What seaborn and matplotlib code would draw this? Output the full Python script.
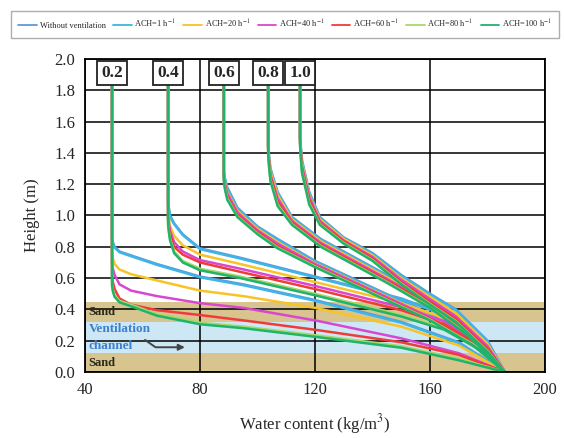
import numpy as np
import pandas as pd
import matplotlib
matplotlib.use("Agg")
import matplotlib.pyplot as plt
import seaborn as sns

# ---------------- data ----------------
SERIES = ["Without ventilation", "ACH=1 h$^{-1}$", "ACH=20 h$^{-1}$", "ACH=40 h$^{-1}$",
          "ACH=60 h$^{-1}$", "ACH=80 h$^{-1}$", "ACH=100 h$^{-1}$"]
COLORS = ["#5b9bd5", "#3fb4e6", "#f7c325", "#d946d1", "#f23a3a", "#a6d96a", "#22b36b"]
GROUP_LABELS = ["0.2", "0.4", "0.6", "0.8", "1.0"]

# group 0.2
x02 = [49.4, 49.4, 49.7, 50.3, 52, 56, 65, 80, 95, 120, 150, 170, 186]
y02 = [
    [2.0, 0.86, 0.83, 0.80, 0.77, 0.745, 0.69, 0.61, 0.56, 0.46, 0.32, 0.19, 0],
    [2.0, 0.85, 0.82, 0.795, 0.765, 0.74, 0.685, 0.605, 0.555, 0.455, 0.315, 0.185, 0],
    [2.0, 0.76, 0.725, 0.69, 0.655, 0.625, 0.585, 0.52, 0.485, 0.41, 0.29, 0.17, 0],
    [2.0, 0.70, 0.66, 0.62, 0.56, 0.52, 0.485, 0.44, 0.41, 0.33, 0.215, 0.12, 0],
    [2.0, 0.62, 0.575, 0.53, 0.47, 0.43, 0.395, 0.364, 0.33, 0.27, 0.19, 0.11, 0],
    [2.0, 0.56, 0.525, 0.49, 0.455, 0.43, 0.37, 0.315, 0.29, 0.235, 0.165, 0.085, 0],
    [2.0, 0.55, 0.515, 0.48, 0.445, 0.42, 0.36, 0.305, 0.28, 0.225, 0.155, 0.075, 0],
]
# group 0.4
x04 = [68.9, 68.9, 69.2, 69.6, 71, 74, 80, 94, 120, 150, 165, 178, 186]
y04 = [
    [2.0, 1.08, 1.045, 1.0, 0.95, 0.88, 0.79, 0.73, 0.61, 0.47, 0.37, 0.2, 0],
    [2.0, 1.07, 1.035, 0.99, 0.945, 0.875, 0.785, 0.725, 0.605, 0.465, 0.365, 0.195, 0],
    [2.0, 1.02, 0.975, 0.93, 0.87, 0.81, 0.75, 0.69, 0.575, 0.44, 0.345, 0.18, 0],
    [2.0, 0.99, 0.945, 0.90, 0.83, 0.77, 0.715, 0.66, 0.55, 0.415, 0.325, 0.17, 0],
    [2.0, 0.97, 0.925, 0.88, 0.80, 0.75, 0.70, 0.64, 0.53, 0.395, 0.305, 0.16, 0],
    [2.0, 0.95, 0.90, 0.85, 0.77, 0.71, 0.66, 0.61, 0.50, 0.365, 0.28, 0.145, 0],
    [2.0, 0.94, 0.89, 0.84, 0.76, 0.70, 0.65, 0.60, 0.49, 0.355, 0.27, 0.135, 0],
]
# group 0.6
x06 = [88.3, 88.3, 88.7, 89.5, 93, 100, 107, 120, 140, 160, 175, 186]
y06 = [
    [2.0, 1.28, 1.235, 1.18, 1.05, 0.93, 0.85, 0.71, 0.54, 0.37, 0.20, 0],
    [2.0, 1.27, 1.225, 1.17, 1.045, 0.925, 0.845, 0.705, 0.535, 0.365, 0.195, 0],
    [2.0, 1.26, 1.21, 1.15, 1.03, 0.915, 0.83, 0.695, 0.525, 0.355, 0.19, 0],
    [2.0, 1.25, 1.20, 1.14, 1.02, 0.905, 0.82, 0.69, 0.52, 0.35, 0.185, 0],
    [2.0, 1.24, 1.185, 1.12, 1.005, 0.895, 0.805, 0.68, 0.51, 0.34, 0.18, 0],
    [2.0, 1.23, 1.175, 1.11, 0.995, 0.885, 0.795, 0.675, 0.505, 0.335, 0.175, 0],
    [2.0, 1.22, 1.165, 1.10, 0.99, 0.88, 0.79, 0.67, 0.50, 0.33, 0.17, 0],
]
# group 0.8
x08 = [103.7, 103.7, 104.0, 104.5, 107, 112, 122, 132, 145, 160, 172, 181, 186]
y08 = [
    [2.0, 1.45, 1.38, 1.30, 1.15, 0.99, 0.85, 0.75, 0.62, 0.47, 0.32, 0.15, 0],
    [2.0, 1.45, 1.375, 1.295, 1.145, 0.985, 0.845, 0.745, 0.615, 0.465, 0.315, 0.145, 0],
    [2.0, 1.44, 1.365, 1.28, 1.13, 0.975, 0.835, 0.735, 0.605, 0.455, 0.30, 0.135, 0],
    [2.0, 1.43, 1.35, 1.26, 1.11, 0.965, 0.825, 0.725, 0.595, 0.44, 0.285, 0.125, 0],
    [2.0, 1.42, 1.34, 1.25, 1.09, 0.955, 0.815, 0.715, 0.585, 0.43, 0.27, 0.115, 0],
    [2.0, 1.41, 1.325, 1.23, 1.07, 0.945, 0.805, 0.705, 0.575, 0.415, 0.255, 0.105, 0],
    [2.0, 1.40, 1.315, 1.22, 1.06, 0.94, 0.80, 0.70, 0.57, 0.41, 0.25, 0.10, 0],
]
# group 1.0
x10 = [114.8, 114.8, 115.1, 115.5, 118, 121.7, 130, 140, 150, 160, 169, 180, 186]
y10 = [
    [2.0, 1.50, 1.43, 1.35, 1.15, 0.99, 0.86, 0.76, 0.62, 0.50, 0.40, 0.20, 0],
    [2.0, 1.50, 1.425, 1.345, 1.145, 0.985, 0.855, 0.755, 0.615, 0.495, 0.395, 0.195, 0],
    [2.0, 1.49, 1.415, 1.33, 1.13, 0.975, 0.85, 0.745, 0.60, 0.48, 0.375, 0.18, 0],
    [2.0, 1.48, 1.40, 1.31, 1.12, 0.965, 0.84, 0.735, 0.59, 0.465, 0.355, 0.165, 0],
    [2.0, 1.47, 1.39, 1.30, 1.10, 0.955, 0.835, 0.725, 0.575, 0.45, 0.34, 0.15, 0],
    [2.0, 1.46, 1.37, 1.28, 1.08, 0.945, 0.825, 0.715, 0.565, 0.435, 0.325, 0.135, 0],
    [2.0, 1.45, 1.36, 1.27, 1.07, 0.94, 0.82, 0.71, 0.56, 0.43, 0.32, 0.13, 0],
]
GROUP_X = [x02, x04, x06, x08, x10]
GROUP_Y = [y02, y04, y06, y08, y10]
LABEL_Y = 1.91

# layer bands (height, m)
SAND_LOW = (0.0, 0.123)
CHANNEL = (0.123, 0.32)
SAND_HIGH = (0.32, 0.45)

# ---------------- build table ----------------
rows = []
for g, (gx, gy) in enumerate(zip(GROUP_X, GROUP_Y)):
    for s, ys in enumerate(gy):
        for i, (xv, yv) in enumerate(zip(gx, ys)):
            rows.append(dict(group=GROUP_LABELS[g], series=SERIES[s], idx=i, x=xv, y=yv))
df = pd.DataFrame(rows)

# ---------------- plot ----------------
sns.set_style("white")
plt.rcParams["font.family"] = ["Liberation Serif", "DejaVu Serif"]
plt.rcParams["mathtext.fontset"] = "stix"

fig = plt.figure(figsize=(5.64, 4.38), dpi=100)
ax = fig.add_axes([0.1507, 0.1507, 0.8156, 0.7146])

ax.axhspan(*SAND_LOW, color="#d8c48e", zorder=0, lw=0)
ax.axhspan(*CHANNEL, color="#cde8f4", zorder=0, lw=0)
ax.axhspan(*SAND_HIGH, color="#d8c48e", zorder=0, lw=0)

sns.lineplot(data=df, x="x", y="y", hue="series", hue_order=SERIES,
             palette=COLORS, units="group", estimator=None, sort=False,
             linewidth=1.8, ax=ax, zorder=3)

ax.set_xlim(40, 200)
ax.set_ylim(0, 2.0)
ax.set_xticks([40, 80, 120, 160, 200])
ax.set_yticks(np.round(np.arange(0, 2.01, 0.2), 1))
ax.set_yticklabels([f"{v:.1f}" for v in np.arange(0, 2.01, 0.2)])
ax.grid(True, color="black", lw=1.1, zorder=1)
ax.set_axisbelow(False)
for ln in ax.get_xgridlines() + ax.get_ygridlines():
    ln.set_zorder(2)
ax.tick_params(length=0, labelsize=12, pad=7)
for sp in ax.spines.values():
    sp.set_color("black")
    sp.set_linewidth(1.3)
    sp.set_zorder(5)

ax.set_xlabel("Water content (kg/m$^3$)", fontsize=12, labelpad=10)
ax.set_ylabel("Height (m)", fontsize=12, labelpad=10)

# group labels
for g, lab in enumerate(GROUP_LABELS):
    ax.text(GROUP_X[g][0], LABEL_Y, lab, ha="center", va="center", fontsize=12.5,
            fontweight="bold", zorder=6,
            bbox=dict(boxstyle="square,pad=0.22", fc="white", ec="#222222", lw=1.3))

# layer annotations
ax.text(41.3, 0.385, "Sand", fontsize=9, fontweight="bold", color="#2a2a1a", va="center", zorder=6)
ax.text(41.3, 0.06, "Sand", fontsize=9, fontweight="bold", color="#2a2a1a", va="center", zorder=6)
ax.text(41.3, 0.272, "Ventilation", fontsize=9.5, fontweight="bold", color="#3d7fcf", va="center", zorder=6)
ax.text(41.3, 0.165, "channel", fontsize=9.5, fontweight="bold", color="#3d7fcf", va="center", zorder=6)
ax.annotate("", xy=(75.7, 0.158), xytext=(60.1, 0.215),
            arrowprops=dict(arrowstyle="-|>", color="#444444", lw=1.4,
                            connectionstyle="angle,angleA=-35,angleB=0,rad=0",
                            mutation_scale=9), zorder=6)

# legend
handles, labels = ax.get_legend_handles_labels()
if ax.get_legend() is not None:
    ax.get_legend().remove()
leg = fig.legend(handles, labels, ncol=7, loc="upper left", bbox_to_anchor=(0.012, 0.985),
                 fontsize=6, frameon=True, fancybox=False, handlelength=2.2,
                 columnspacing=0.9, handletextpad=0.35, borderpad=0.9)
leg.get_frame().set_edgecolor("#999999")
leg.get_frame().set_linewidth(1.0)
for lh in leg.get_lines():
    lh.set_linewidth(1.3)

fig.savefig("out.png", dpi=100)
